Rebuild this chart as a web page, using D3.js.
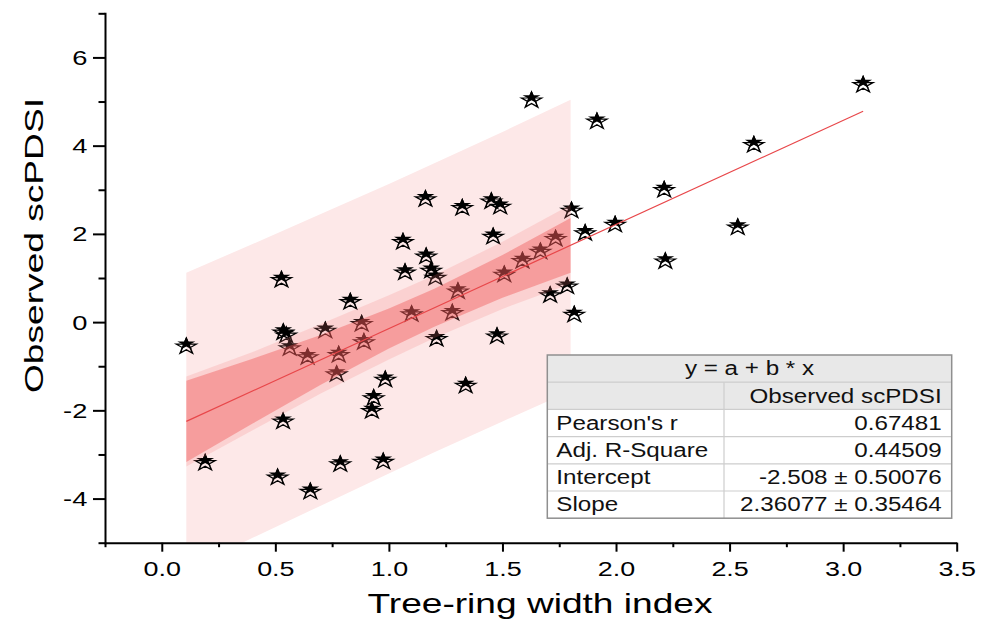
<!DOCTYPE html>
<html>
<head>
<meta charset="utf-8">
<script src="https://cdnjs.cloudflare.com/ajax/libs/d3/7.8.5/d3.min.js"></script>
<style>
  body { margin: 0; background: #fff; }
  svg { display: block; }
  text { font-family: "Liberation Sans", Arial, sans-serif; fill: #000; }
</style>
</head>
<body>
<div id="chart"></div>
<script>
// observed points (tree-ring width index, scPDSI)
const obsX = [0.108, 0.191, 0.51, 0.654, 0.786, 0.975, 0.527, 0.83, 0.535, 0.548,
  0.563, 0.72, 0.642, 0.88, 0.89, 0.779, 0.77, 0.534, 0.984, 0.933,
  0.925, 1.161, 1.323, 1.451, 1.49, 1.804, 1.459, 1.062, 1.164, 1.071,
  1.186, 1.205, 1.10, 1.279, 1.304, 1.508, 1.588, 1.667, 1.734, 1.785,
  1.71, 1.816, 1.21, 1.476, 1.628, 1.916, 2.212, 2.217, 1.996, 1.864,
  3.088, 2.607, 2.536, 1.338];
const obsY = [-0.52, -3.16, -3.49, -3.81, -3.19, -3.13, 0.99, 0.49, -0.2, -0.27,
  -0.56, -0.16, -0.76, -0.01, -0.42, -0.71, -1.15, -2.22, -1.27, -1.69,
  -1.98, 2.82, 2.62, 2.77, 2.65, 2.56, 1.97, 1.85, 1.52, 1.16,
  1.20, 1.04, 0.21, 0.24, 0.73, 1.11, 1.42, 1.63, 1.92, 0.84,
  0.64, 0.2, -0.35, -0.29, 5.06, 4.58, 3.03, 1.41, 2.24, 2.05,
  5.41, 4.05, 2.18, -1.41];

// fitted line ends
const fitX = [0.108, 3.088];
const fitY = [-2.25, 4.78];

// bands
const bandX     = [0.108, 0.4, 0.7, 1.0, 1.2, 1.5, 1.8];
const predUpper = [1.12, 1.77, 2.45, 3.13, 3.60, 4.31, 5.04];
const predLower = [-5.62, -4.89, -4.16, -3.43, -2.95, -2.25, -1.56];
const fanUpper  = [-1.23, -0.68, -0.04, 0.61, 1.06, 1.82, 2.66];
const fanLower  = [-3.27, -2.45, -1.62, -0.85, -0.36, 0.30, 0.87];
const confUpper = [-1.33, -0.83, -0.29, 0.31, 0.755, 1.52, 2.36];
const confLower = [-3.17, -2.30, -1.42, -0.60, -0.105, 0.55, 1.12];

const xMajor = [0, 0.5, 1, 1.5, 2, 2.5, 3, 3.5];
const xMinor = [-0.25, 0.25, 0.75, 1.25, 1.75, 2.25, 2.75, 3.25];
const yMajor = [-4, -2, 0, 2, 4, 6];
const yMinor = [-5, -3, -1, 1, 3, 5, 7];

const tableTitle = "y = a + b * x";
const tableHeader = "Observed scPDSI";
const tableNames = ["Pearson's r", "Adj. R-Square", "Intercept", "Slope"];
const tableValues = ["0.67481", "0.44509", "-2.508 \u00b1 0.50076", "2.36077 \u00b1 0.35464"];

const width = 992, height = 625;

const svg = d3.select("#chart").append("svg")
    .attr("width", width)
    .attr("height", height);

svg.append("rect").attr("width", width).attr("height", height).attr("fill", "#fff");

const x = d3.scaleLinear().domain([-0.25, 3.5]).range([105, 956.7]);
const y = d3.scaleLinear().domain([-5, 7]).range([542.7, 13.3]);

svg.append("clipPath").attr("id", "plotclip")
  .append("rect")
    .attr("x", x(-0.25)).attr("y", y(7))
    .attr("width", x(3.5) - x(-0.25)).attr("height", y(-5) - y(7));

const bandArea = (lo, hi) => d3.area()
    .x((d, i) => x(bandX[i]))
    .y0((d, i) => y(lo[i]))
    .y1((d, i) => y(hi[i]));

const plot = svg.append("g").attr("clip-path", "url(#plotclip)");

// prediction band (under the stars)
plot.append("path")
    .datum(bandX)
    .attr("d", bandArea(predLower, predUpper))
    .attr("fill", "#fde8e8");

// stars
const starSize = 74;
const starG = plot.selectAll(".pt")
    .data(obsX.map((d, i) => [d, obsY[i]]))
    .enter().append("g")
    .attr("class", "pt")
    .attr("transform", d => "translate(" + x(d[0]) + "," + y(d[1]) + ") scale(1.3,1)");

starG.append("path")
    .attr("d", d3.symbol().type(d3.symbolStar).size(starSize))
    .attr("transform", "translate(0,1.6)")
    .attr("fill", "none")
    .attr("stroke", "#000")
    .attr("stroke-width", 1.2);

starG.append("path")
    .attr("d", d3.symbol().type(d3.symbolStar).size(starSize * 0.8))
    .attr("transform", "translate(0,-1.4)")
    .attr("fill", "#000");

// confidence fans on top, semi transparent
plot.append("path")
    .datum(bandX)
    .attr("d", bandArea(fanLower, fanUpper))
    .attr("fill", "rgb(245,120,120)")
    .attr("fill-opacity", 0.2);

plot.append("path")
    .datum(bandX)
    .attr("d", bandArea(confLower, confUpper))
    .attr("fill", "rgb(240,80,80)")
    .attr("fill-opacity", 0.4);

// fitted line
plot.append("path")
    .datum(fitX)
    .attr("d", d3.line().x((d, i) => x(fitX[i])).y((d, i) => y(fitY[i])))
    .attr("fill", "none")
    .attr("stroke", "#e8474a")
    .attr("stroke-width", 1.2);

// axes
const axisStyle = g => {
  g.selectAll("path, line").attr("stroke", "#000").attr("stroke-width", 2);
};

const gx = svg.append("g")
    .attr("transform", "translate(0," + y(-5) + ")")
    .call(d3.axisBottom(x).tickValues(xMajor).tickSize(9).tickSizeOuter(0)
      .tickFormat(d => d.toFixed(1)))
    .call(axisStyle);
gx.selectAll("text")
    .attr("y", 19)
    .attr("dy", "0.71em")
    .attr("transform", "scale(1.38,1)")
    .style("font-size", "19.5px")
    .style("font-family", "'Liberation Sans', Arial, sans-serif");

svg.append("g")
    .attr("transform", "translate(0," + y(-5) + ")")
    .call(d3.axisBottom(x).tickValues(xMinor).tickSize(4.5).tickFormat(""))
    .call(g => g.select(".domain").remove())
    .call(axisStyle);

const gy = svg.append("g")
    .attr("transform", "translate(" + x(-0.25) + ",0)")
    .call(d3.axisLeft(y).tickValues(yMajor).tickSize(12).tickSizeOuter(0)
      .tickFormat(d => String(d)))
    .call(axisStyle);
gy.select(".domain").attr("stroke-linecap", "square");
gy.selectAll("text")
    .attr("x", -12.6)
    .attr("dy", "0.36em")
    .attr("transform", "scale(1.4,1)")
    .style("font-size", "19.5px")
    .style("font-family", "'Liberation Sans', Arial, sans-serif");

svg.append("g")
    .attr("transform", "translate(" + x(-0.25) + ",0)")
    .call(d3.axisLeft(y).tickValues(yMinor).tickSize(6.5).tickFormat(""))
    .call(g => g.select(".domain").remove())
    .call(axisStyle);

// axis titles
svg.append("text")
    .attr("transform", "translate(42.7,245.5) rotate(-90)")
    .attr("text-anchor", "middle")
    .attr("textLength", 295)
    .attr("lengthAdjust", "spacingAndGlyphs")
    .style("font-size", "26px")
    .text("Observed scPDSI");

svg.append("text")
    .attr("x", 540)
    .attr("y", 613)
    .attr("text-anchor", "middle")
    .attr("textLength", 345)
    .attr("lengthAdjust", "spacingAndGlyphs")
    .style("font-size", "28px")
    .text("Tree-ring width index");

// results table
const tLeft = 547.3, tRight = 951.7, tTop = 355, rowH = 27.2, tMid = 724;
const nRows = 2 + tableNames.length;
const table = svg.append("g");

table.append("rect")
    .attr("x", tLeft).attr("y", tTop)
    .attr("width", tRight - tLeft).attr("height", rowH * nRows)
    .attr("fill", "#fff");
table.append("rect")
    .attr("x", tLeft).attr("y", tTop)
    .attr("width", tRight - tLeft).attr("height", rowH * 2)
    .attr("fill", "#e8e8e8");

for (let i = 1; i < nRows; i++) {
  table.append("line")
      .attr("x1", tLeft).attr("x2", tRight)
      .attr("y1", tTop + rowH * i).attr("y2", tTop + rowH * i)
      .attr("stroke", "#cdcdcd").attr("stroke-width", 1.2);
}
table.append("line")
    .attr("x1", tMid).attr("x2", tMid)
    .attr("y1", tTop + rowH).attr("y2", tTop + rowH * nRows)
    .attr("stroke", "#cdcdcd").attr("stroke-width", 1.2);
table.append("rect")
    .attr("x", tLeft).attr("y", tTop)
    .attr("width", tRight - tLeft).attr("height", rowH * nRows)
    .attr("fill", "none")
    .attr("stroke", "#8f8f8f").attr("stroke-width", 1.5);

const cellText = (tx, ty, anchor, str) => table.append("text")
    .attr("transform", "translate(" + tx + "," + ty + ") scale(1.21,1)")
    .attr("text-anchor", anchor)
    .style("font-size", "20px")
    .style("fill", "#111")
    .text(str);

const base = i => tTop + rowH * i + rowH / 2 + 6.8;
cellText((tLeft + tRight) / 2, base(0), "middle", tableTitle);
cellText(tRight - 10, base(1), "end", tableHeader);
tableNames.forEach((n, i) => {
  cellText(tLeft + 9, base(i + 2), "start", n);
  cellText(tRight - 10, base(i + 2), "end", tableValues[i]);
});
</script>
</body>
</html>
